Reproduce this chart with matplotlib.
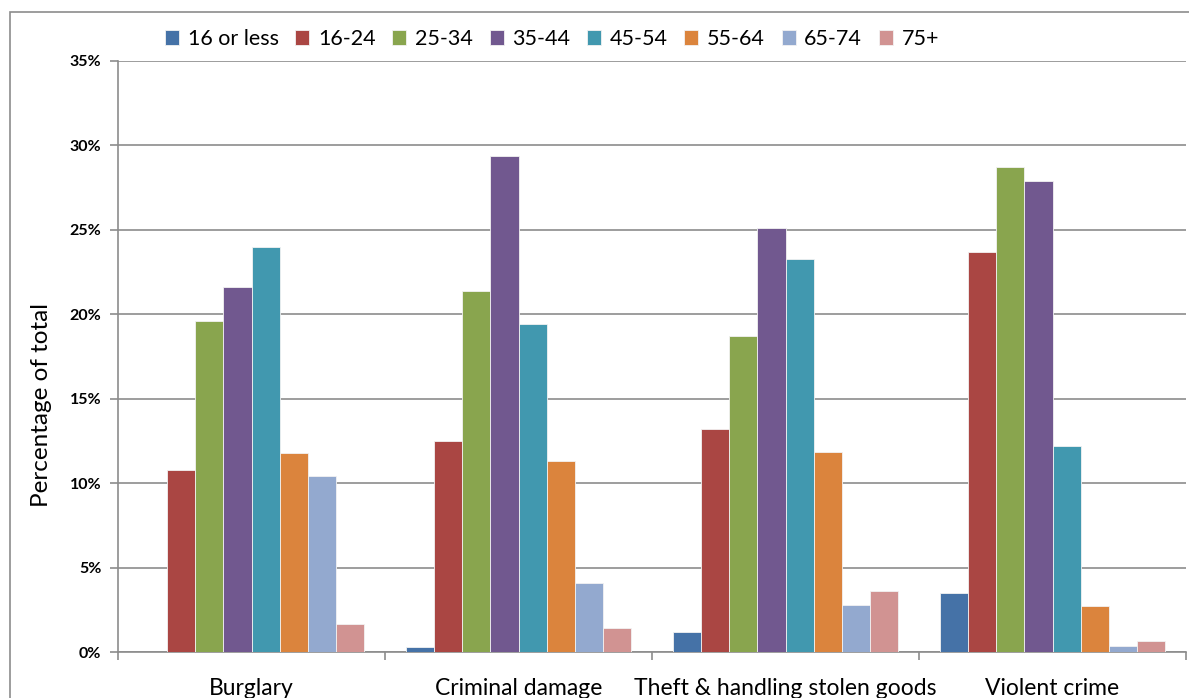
import matplotlib.pyplot as plt
import numpy as np
from matplotlib.patches import Rectangle

plt.rcParams["font.family"] = ["Lato", "DejaVu Sans"]

CATEGORIES = ["Burglary", "Criminal damage", "Theft & handling stolen goods", "Violent crime"]
AGE_GROUPS = ["16 or less", "16-24", "25-34", "35-44", "45-54", "55-64", "65-74", "75+"]
COLORS = ["#4572A7", "#AA4643", "#89A54E", "#71588F", "#4198AF", "#DB843D", "#93A9CF", "#D19392"]

# percent of total, one list per age group, in category order
age_16_less = [0.0, 0.28, 1.2, 3.5]
age_16_24 = [10.8, 12.5, 13.2, 23.7]
age_25_34 = [19.6, 21.4, 18.7, 28.75]
age_35_44 = [21.6, 29.4, 25.1, 27.9]
age_45_54 = [24.0, 19.4, 23.3, 12.2]
age_55_64 = [11.8, 11.3, 11.85, 2.7]
age_65_74 = [10.45, 4.1, 2.8, 0.38]
age_75_plus = [1.66, 1.45, 3.6, 0.67]
SERIES = [age_16_less, age_16_24, age_25_34, age_35_44,
          age_45_54, age_55_64, age_65_74, age_75_plus]

W, H = 1189, 698
fig = plt.figure(figsize=(W / 100, H / 100), dpi=100)
ax = fig.add_axes([118 / W, 1 - 652 / H, (1186 - 118) / W, (652 - 61) / H])

# outer chart frame (left and top edges visible)
fig.patches.append(Rectangle((10 / W, -0.1), 1.2, 1 - 12.5 / H + 0.1, transform=fig.transFigure,
                             fill=False, edgecolor="#8c8c8c", lw=1.2))

x = np.arange(len(CATEGORIES))
bw = 1 / 9.5
for k, (vals, c, lab) in enumerate(zip(SERIES, COLORS, AGE_GROUPS)):
    ax.bar(x + (k - 3.5) * bw, vals, width=bw, color=c, edgecolor="#f2f2f2",
           linewidth=0.6, label=lab, zorder=3)

grey = "#8c8c8c"
ax.set_xlim(-0.5, len(CATEGORIES) - 0.5)
ax.set_ylim(0, 35)
ax.set_yticks(np.arange(0, 36, 5))
ax.set_yticklabels([f"{v}%" for v in range(0, 36, 5)], fontweight="bold", fontsize=11.5)
ax.yaxis.grid(True, color=grey, lw=1.2, zorder=0)
ax.set_axisbelow(True)
ax.set_xticks(x)
ax.set_xticklabels(CATEGORIES, fontsize=16.5)
ax.set_xticks(np.arange(-0.5, len(CATEGORIES)), minor=True)
ax.tick_params(axis="x", which="major", length=0, pad=19)
ax.tick_params(axis="x", which="minor", length=6, color=grey, width=1.2)
ax.tick_params(axis="y", length=6, color=grey, width=1.2, pad=6)
for s in ("top", "right"):
    ax.spines[s].set_visible(False)
for s in ("left", "bottom"):
    ax.spines[s].set_color(grey)
    ax.spines[s].set_linewidth(1.2)
ax.set_ylabel("Percentage of total", fontsize=17.5)
ax.yaxis.set_label_coords(-0.062, 0.418)

fig.legend(loc="upper left", bbox_to_anchor=(165 / W, 1 - 29 / H), ncol=8, frameon=False,
           fontsize=15.5, handlelength=0.65, handleheight=0.65, handletextpad=0.4,
           columnspacing=0.78, borderaxespad=0, borderpad=0)

fig.savefig("out.png", dpi=100)
